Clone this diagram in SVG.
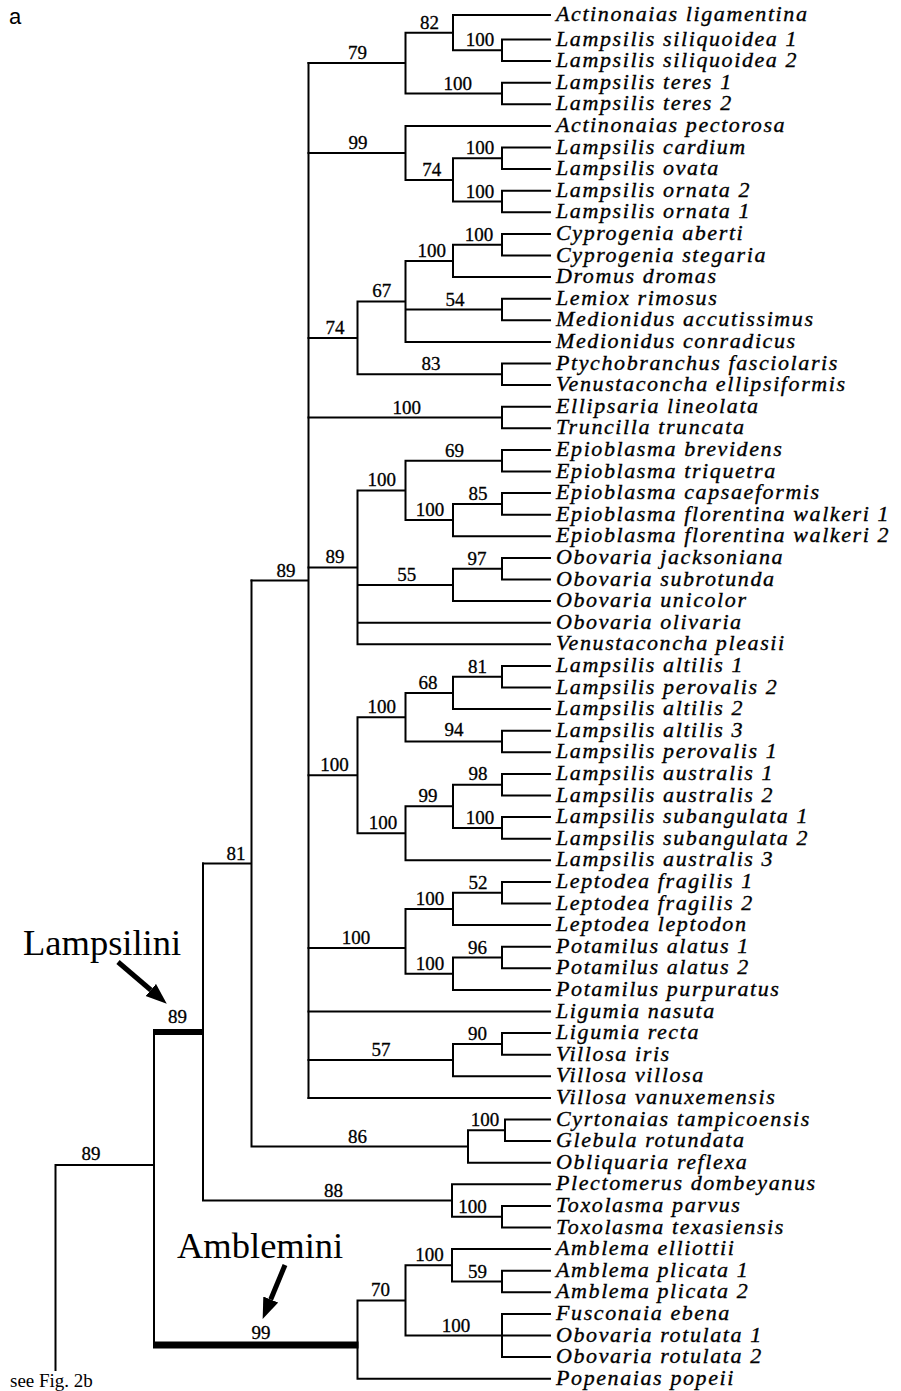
<svg xmlns="http://www.w3.org/2000/svg" width="901" height="1391" viewBox="0 0 901 1391">
<style>
.br{fill:none;stroke:#000;stroke-width:2;stroke-linecap:square}
.thick{fill:none;stroke:#000;stroke-linecap:butt}
.sp{font-family:"Liberation Serif",serif;font-size:19px;text-anchor:middle;fill:#000;stroke:#000;stroke-width:0.3}
.lf{font-family:"Liberation Serif",serif;font-style:italic;font-size:22px;letter-spacing:1.6px;fill:#000;stroke:#000;stroke-width:0.35}
.big{font-family:"Liberation Serif",serif;font-size:36.5px;fill:#000}
.arr{stroke:#000;stroke-width:5;fill:none}
</style>
<defs>
<marker id="ah" markerUnits="userSpaceOnUse" markerWidth="22" markerHeight="18" refX="0" refY="8" orient="auto">
<path d="M0,0 L21,8 L0,16 z" fill="#000"/>
</marker>
</defs>
<rect width="901" height="1391" fill="#fff"/>
<text x="9" y="24" font-family="Liberation Sans, sans-serif" font-size="22">a</text>

<g id="connectors">
<path class="br" d="M502 39.5V61.1 M502 39.5H550 M502 61.1H550 M453 15V50.3 M453 15H550 M453 50.3H502 M502 82.7V104.3 M502 82.7H550 M502 104.3H550 M405.5 32.65V93.5 M405.5 32.65H453 M405.5 93.5H502 M308.5 63.1H405.5"/>
<path class="br" d="M502 147.5V169.1 M502 147.5H550 M502 169.1H550 M502 190.7V212.3 M502 190.7H550 M502 212.3H550 M453 158.3V201.5 M453 158.3H502 M453 201.5H502 M405.5 125.9V179.9 M405.5 125.9H550 M405.5 179.9H453 M308.5 152.9H405.5"/>
<path class="br" d="M502 233.9V255.5 M502 233.9H550 M502 255.5H550 M453 244.7V277.1 M453 244.7H502 M453 277.1H550 M502 298.7V320.3 M502 298.7H550 M502 320.3H550 M405.5 260.9V341.9 M405.5 260.9H453 M405.5 309.5H502 M405.5 341.9H550 M502 363.5V385.1 M502 363.5H550 M502 385.1H550 M357.5 301.4V374.3 M357.5 301.4H405.5 M357.5 374.3H502 M308.5 337.9H357.5"/>
<path class="br" d="M502 406.7V428.3 M502 406.7H550 M502 428.3H550 M308.5 417.5H502"/>
<path class="br" d="M502 449.9V471.5 M502 449.9H550 M502 471.5H550 M502 493.1V514.7 M502 493.1H550 M502 514.7H550 M453 503.9V536.3 M453 503.9H502 M453 536.3H550 M405.5 460.7V520.1 M405.5 460.7H502 M405.5 520.1H453 M502 557.9V579.5 M502 557.9H550 M502 579.5H550 M453 568.7V601.1 M453 568.7H502 M453 601.1H550 M357.5 490.4V644.3 M357.5 490.4H405.5 M357.5 584.9H453 M357.5 622.7H550 M357.5 644.3H550 M308.5 567.4H357.5"/>
<path class="br" d="M502 665.9V687.5 M502 665.9H550 M502 687.5H550 M453 676.7V709.1 M453 676.7H502 M453 709.1H550 M502 730.7V752.3 M502 730.7H550 M502 752.3H550 M405.5 692.9V741.5 M405.5 692.9H453 M405.5 741.5H502 M502 773.9V795.5 M502 773.9H550 M502 795.5H550 M502 817.1V838.7 M502 817.1H550 M502 838.7H550 M453 784.7V827.9 M453 784.7H502 M453 827.9H502 M405.5 806.3V860.3 M405.5 806.3H453 M405.5 860.3H550 M357.5 717.2V833.3 M357.5 717.2H405.5 M357.5 833.3H405.5 M308.5 775.25H357.5"/>
<path class="br" d="M502 881.9V903.5 M502 881.9H550 M502 903.5H550 M453 892.7V925.1 M453 892.7H502 M453 925.1H550 M502 946.7V968.3 M502 946.7H550 M502 968.3H550 M453 957.5V989.9 M453 957.5H502 M453 989.9H550 M405.5 908.9V973.7 M405.5 908.9H453 M405.5 973.7H453 M308.5 948H405.5"/>
<path class="br" d="M308.5 1011.5H550 M502 1033.1V1054.7 M502 1033.1H550 M502 1054.7H550 M453 1043.9V1076.3 M453 1043.9H502 M453 1076.3H550 M308.5 1060.1H453 M308.5 1097.9H550"/>
<path class="br" d="M308.5 63.1V1097.9 M251.5 580.5H308.5"/>
<path class="br" d="M505 1119.5V1141.1 M505 1119.5H550 M505 1141.1H550 M468 1130.3V1162.7 M468 1130.3H505 M468 1162.7H550 M251.5 1146.5H468 M251.5 580.5V1146.5 M203 863.5H251.5"/>
<path class="br" d="M502 1205.9V1227.5 M502 1205.9H550 M502 1227.5H550 M452 1184.3V1216.7 M452 1184.3H550 M452 1216.7H502 M203 1200.5H452 M203 863.5V1200.5"/>
<path class="br" d="M502 1270.7V1292.3 M502 1270.7H550 M502 1292.3H550 M452 1249.1V1281.5 M452 1249.1H550 M452 1281.5H502 M502 1313.9V1357.1 M502 1313.9H550 M502 1335.5H550 M502 1357.1H550 M405.5 1265.3V1335.5 M405.5 1265.3H452 M405.5 1335.5H502 M357.5 1300.4V1378.7 M357.5 1300.4H405.5 M357.5 1378.7H550"/>
<path class="br" d="M154 1032V1345 M55.5 1165H154 M55.5 1165V1370"/>
<path class="thick" stroke-width="6" d="M153 1032H204"/>
<path class="thick" stroke-width="7" d="M153 1345H358.5"/>
<path class="arr" d="M118 962L150.8 990" marker-end="url(#ah)"/>
<path class="arr" d="M285 1265L270.7 1299.5" marker-end="url(#ah)"/>
</g>

<g id="support">
<text class="sp" x="429.5" y="28.6">82</text>
<text class="sp" x="480" y="46.3">100</text>
<text class="sp" x="457.7" y="89.5">100</text>
<text class="sp" x="357.5" y="59.1">79</text>
<text class="sp" x="358" y="148.9">99</text>
<text class="sp" x="480" y="154.3">100</text>
<text class="sp" x="431.7" y="175.9">74</text>
<text class="sp" x="480" y="197.5">100</text>
<text class="sp" x="479" y="240.7">100</text>
<text class="sp" x="431.7" y="256.9">100</text>
<text class="sp" x="381.7" y="297.4">67</text>
<text class="sp" x="455" y="305.5">54</text>
<text class="sp" x="335" y="333.9">74</text>
<text class="sp" x="431" y="370.3">83</text>
<text class="sp" x="406.7" y="413.5">100</text>
<text class="sp" x="454.5" y="456.7">69</text>
<text class="sp" x="381.7" y="486.4">100</text>
<text class="sp" x="478" y="499.9">85</text>
<text class="sp" x="430" y="516.1">100</text>
<text class="sp" x="477" y="564.7">97</text>
<text class="sp" x="406.7" y="580.9">55</text>
<text class="sp" x="335" y="563.4">89</text>
<text class="sp" x="286" y="576.5">89</text>
<text class="sp" x="477.5" y="672.7">81</text>
<text class="sp" x="428" y="688.9">68</text>
<text class="sp" x="381.7" y="713.2">100</text>
<text class="sp" x="454" y="736">94</text>
<text class="sp" x="334.5" y="771.3">100</text>
<text class="sp" x="478" y="779.5">98</text>
<text class="sp" x="428" y="802.3">99</text>
<text class="sp" x="480" y="823.9">100</text>
<text class="sp" x="383" y="829.3">100</text>
<text class="sp" x="478" y="888.7">52</text>
<text class="sp" x="430" y="904.9">100</text>
<text class="sp" x="356" y="944">100</text>
<text class="sp" x="477.5" y="953.5">96</text>
<text class="sp" x="430" y="969.7">100</text>
<text class="sp" x="477.5" y="1039.9">90</text>
<text class="sp" x="381" y="1056.1">57</text>
<text class="sp" x="485" y="1126.3">100</text>
<text class="sp" x="357.5" y="1142.5">86</text>
<text class="sp" x="236" y="859.5">81</text>
<text class="sp" x="177.5" y="1023">89</text>
<text class="sp" x="333.5" y="1196.5">88</text>
<text class="sp" x="472.5" y="1212.7">100</text>
<text class="sp" x="429.5" y="1261.3">100</text>
<text class="sp" x="477.5" y="1277.5">59</text>
<text class="sp" x="380.5" y="1296.4">70</text>
<text class="sp" x="456" y="1331.5">100</text>
<text class="sp" x="261" y="1339">99</text>
<text class="sp" x="91" y="1160">89</text>
</g>

<g id="clades">
<text class="big" x="23" y="955">Lampsilini</text>
<text class="big" x="177" y="1258">Amblemini</text>
<text x="10" y="1387" font-family="Liberation Serif, serif" font-size="19">see Fig. 2b</text>
</g>

<g id="leaves" class="lf">
<g id="leaf01"><text x="556" y="21">Actinonaias ligamentina</text></g>
<g id="leaf02"><text x="556" y="45.5">Lampsilis siliquoidea 1</text></g>
<g id="leaf03"><text x="556" y="67.1">Lampsilis siliquoidea 2</text></g>
<g id="leaf04"><text x="556" y="88.7">Lampsilis teres 1</text></g>
<g id="leaf05"><text x="556" y="110.3">Lampsilis teres 2</text></g>
<g id="leaf06"><text x="556" y="131.9">Actinonaias pectorosa</text></g>
<g id="leaf07"><text x="556" y="153.5">Lampsilis cardium</text></g>
<g id="leaf08"><text x="556" y="175.1">Lampsilis ovata</text></g>
<g id="leaf09"><text x="556" y="196.7">Lampsilis ornata 2</text></g>
<g id="leaf10"><text x="556" y="218.3">Lampsilis ornata 1</text></g>
<g id="leaf11"><text x="556" y="239.9">Cyprogenia aberti</text></g>
<g id="leaf12"><text x="556" y="261.5">Cyprogenia stegaria</text></g>
<g id="leaf13"><text x="556" y="283.1">Dromus dromas</text></g>
<g id="leaf14"><text x="556" y="304.7">Lemiox rimosus</text></g>
<g id="leaf15"><text x="556" y="326.3">Medionidus accutissimus</text></g>
<g id="leaf16"><text x="556" y="347.9">Medionidus conradicus</text></g>
<g id="leaf17"><text x="556" y="369.5">Ptychobranchus fasciolaris</text></g>
<g id="leaf18"><text x="556" y="391.1">Venustaconcha ellipsiformis</text></g>
<g id="leaf19"><text x="556" y="412.7">Ellipsaria lineolata</text></g>
<g id="leaf20"><text x="556" y="434.3">Truncilla truncata</text></g>
<g id="leaf21"><text x="556" y="455.9">Epioblasma brevidens</text></g>
<g id="leaf22"><text x="556" y="477.5">Epioblasma triquetra</text></g>
<g id="leaf23"><text x="556" y="499.1">Epioblasma capsaeformis</text></g>
<g id="leaf24"><text x="556" y="520.7">Epioblasma florentina walkeri 1</text></g>
<g id="leaf25"><text x="556" y="542.3">Epioblasma florentina walkeri 2</text></g>
<g id="leaf26"><text x="556" y="563.9">Obovaria jacksoniana</text></g>
<g id="leaf27"><text x="556" y="585.5">Obovaria subrotunda</text></g>
<g id="leaf28"><text x="556" y="607.1">Obovaria unicolor</text></g>
<g id="leaf29"><text x="556" y="628.7">Obovaria olivaria</text></g>
<g id="leaf30"><text x="556" y="650.3">Venustaconcha pleasii</text></g>
<g id="leaf31"><text x="556" y="671.9">Lampsilis altilis 1</text></g>
<g id="leaf32"><text x="556" y="693.5">Lampsilis perovalis 2</text></g>
<g id="leaf33"><text x="556" y="715.1">Lampsilis altilis 2</text></g>
<g id="leaf34"><text x="556" y="736.7">Lampsilis altilis 3</text></g>
<g id="leaf35"><text x="556" y="758.3">Lampsilis perovalis 1</text></g>
<g id="leaf36"><text x="556" y="779.9">Lampsilis australis 1</text></g>
<g id="leaf37"><text x="556" y="801.5">Lampsilis australis 2</text></g>
<g id="leaf38"><text x="556" y="823.1">Lampsilis subangulata 1</text></g>
<g id="leaf39"><text x="556" y="844.7">Lampsilis subangulata 2</text></g>
<g id="leaf40"><text x="556" y="866.3">Lampsilis australis 3</text></g>
<g id="leaf41"><text x="556" y="887.9">Leptodea fragilis 1</text></g>
<g id="leaf42"><text x="556" y="909.5">Leptodea fragilis 2</text></g>
<g id="leaf43"><text x="556" y="931.1">Leptodea leptodon</text></g>
<g id="leaf44"><text x="556" y="952.7">Potamilus alatus 1</text></g>
<g id="leaf45"><text x="556" y="974.3">Potamilus alatus 2</text></g>
<g id="leaf46"><text x="556" y="995.9">Potamilus purpuratus</text></g>
<g id="leaf47"><text x="556" y="1017.5">Ligumia nasuta</text></g>
<g id="leaf48"><text x="556" y="1039.1">Ligumia recta</text></g>
<g id="leaf49"><text x="556" y="1060.7">Villosa iris</text></g>
<g id="leaf50"><text x="556" y="1082.3">Villosa villosa</text></g>
<g id="leaf51"><text x="556" y="1103.9">Villosa vanuxemensis</text></g>
<g id="leaf52"><text x="556" y="1125.5">Cyrtonaias tampicoensis</text></g>
<g id="leaf53"><text x="556" y="1147.1">Glebula rotundata</text></g>
<g id="leaf54"><text x="556" y="1168.7">Obliquaria reflexa</text></g>
<g id="leaf55"><text x="556" y="1190.3">Plectomerus dombeyanus</text></g>
<g id="leaf56"><text x="556" y="1211.9">Toxolasma parvus</text></g>
<g id="leaf57"><text x="556" y="1233.5">Toxolasma texasiensis</text></g>
<g id="leaf58"><text x="556" y="1255.1">Amblema elliottii</text></g>
<g id="leaf59"><text x="556" y="1276.7">Amblema plicata 1</text></g>
<g id="leaf60"><text x="556" y="1298.3">Amblema plicata 2</text></g>
<g id="leaf61"><text x="556" y="1319.9">Fusconaia ebena</text></g>
<g id="leaf62"><text x="556" y="1341.5">Obovaria rotulata 1</text></g>
<g id="leaf63"><text x="556" y="1363.1">Obovaria rotulata 2</text></g>
<g id="leaf64"><text x="556" y="1384.7">Popenaias popeii</text></g>
</g>
</svg>
